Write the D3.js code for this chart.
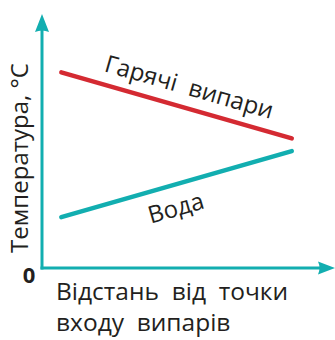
<!DOCTYPE html>
<html>
<head>
<meta charset="utf-8">
<script src="https://cdn.jsdelivr.net/npm/d3@7"></script>
<style>
  body { margin: 0; background: #fff; }
  svg { display: block; }
  text { font-family: "Open Sans", sans-serif; fill: #231f20; }
</style>
</head>
<body>
<div id="chart"></div>
<script>
// data
const seriesNames = ["Гарячі  випари", "Вода"]
const distance = [7, 90.5]
const hotVapour = [77, 51]
const water = [20, 46]
const seriesColors = ["#d42a32", "#12aeb0"]
const yTitle = "Температура, °С"
const xTitle = ["Відстань  від  точки", "входу  випарів"]

const width = 335
const height = 340

const svg = d3
  .select("#chart")
  .append("svg")
  .attr("width", width)
  .attr("height", height)

// 100 on each scale = tip of the axis arrow's base
const x = d3.scaleLinear().domain([0, 100]).range([42, 318])
const y = d3.scaleLinear().domain([0, 100]).range([268, 14])

const axisColor = "#12aeb0"

// axes, no ticks, only the domain line
svg
  .append("g")
  .attr("transform", `translate(0,${y(0)})`)
  .call(d3.axisBottom(x).tickValues([]).tickSizeOuter(0))
  .select(".domain")
  .attr("stroke", axisColor)
  .attr("stroke-width", 3)
  .attr("d", `M${x(0) - 1.5},0H${x(100) + 2}`)

svg
  .append("g")
  .attr("transform", `translate(${x(0)},0)`)
  .call(d3.axisLeft(y).tickValues([]).tickSizeOuter(0))
  .select(".domain")
  .attr("stroke", axisColor)
  .attr("stroke-width", 3)
  .attr("d", `M0,${y(0) + 1.5}V${y(100) + 16}`)

// arrow heads
svg
  .append("path")
  .attr("fill", axisColor)
  .attr("d", `M${x(0)},${y(100)}L${x(0) + 7},${y(100) + 18}Q${x(0)},${y(100) + 15} ${x(0) - 7},${y(100) + 18}Z`)

svg
  .append("path")
  .attr("fill", axisColor)
  .attr("d", `M${x(100) + 17},${y(0)}L${x(100)},${y(0) - 6.5}Q${x(100) + 3},${y(0)} ${x(100)},${y(0) + 6.5}Z`)

// series lines
const series = [hotVapour, water].map((vals, i) => ({
  name: seriesNames[i],
  color: seriesColors[i],
  points: vals.map((v, j) => [distance[j], v]),
}))

const line = d3
  .line()
  .x((d) => x(d[0]))
  .y((d) => y(d[1]))

svg
  .selectAll(".series")
  .data(series)
  .join("path")
  .attr("class", "series")
  .attr("fill", "none")
  .attr("stroke", (d) => d.color)
  .attr("stroke-width", 4.5)
  .attr("stroke-linecap", "round")
  .attr("d", (d) => line(d.points))

// labels along lines
const labelPos = [0.53, 0.47]
const labelDy = [-13, 31]
svg
  .selectAll(".series-label")
  .data(series)
  .join("text")
  .attr("class", "series-label")
  .attr("transform", (d, i) => {
    const p0 = d.points[0]
    const p1 = d.points[1]
    const x0 = x(p0[0]), y0 = y(p0[1]), x1 = x(p1[0]), y1 = y(p1[1])
    const t = labelPos[i]
    const a = (Math.atan2(y1 - y0, x1 - x0) * 180) / Math.PI
    return `translate(${x0 + (x1 - x0) * t},${y0 + (y1 - y0) * t}) rotate(${a})`
  })
  .attr("y", (d, i) => labelDy[i])
  .attr("text-anchor", "middle")
  .style("font-size", "24px")
  .style("white-space", "pre")
  .text((d) => d.name)

// axis titles
svg
  .append("text")
  .attr("transform", "translate(28,158) rotate(-90)")
  .attr("text-anchor", "middle")
  .style("font-size", "24px")
  .text(yTitle)

svg
  .selectAll(".x-title")
  .data(xTitle)
  .join("text")
  .attr("class", "x-title")
  .attr("x", 56)
  .attr("y", (d, i) => 300 + i * 31)
  .style("font-size", "24.5px")
  .style("white-space", "pre")
  .text((d) => d)

svg
  .append("text")
  .attr("x", 29)
  .attr("y", 283)
  .attr("text-anchor", "middle")
  .style("font-size", "22px")
  .style("font-weight", "bold")
  .text("0")
</script>
</body>
</html>
